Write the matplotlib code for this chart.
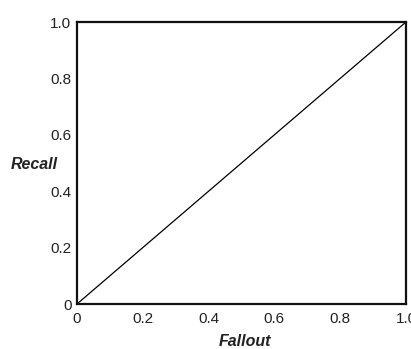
import matplotlib.pyplot as plt

# random-retrieval ROC line
fallout = [0.0, 1.0]
recall = [0.0, 1.0]

ticks = [0, 0.2, 0.4, 0.6, 0.8, 1.0]
tick_labels = ['0', '0.2', '0.4', '0.6', '0.8', '1.0']

plt.rcParams['font.family'] = ['Liberation Sans', 'DejaVu Sans']

fig = plt.figure(figsize=(4.11, 3.49), dpi=100)
ax = fig.add_axes([77 / 411, 1 - 304 / 349, 329 / 411, 282 / 349])

ax.plot(fallout, recall, color='black', linewidth=0.9)

ax.set_xlim(0, 1)
ax.set_ylim(0, 1)
ax.set_xticks(ticks)
ax.set_xticklabels(tick_labels)
ax.set_yticks(ticks)
ax.set_yticklabels(tick_labels)
ax.tick_params(length=0, labelsize=11, labelcolor='#222222')
ax.tick_params(axis='x', pad=6)
ax.tick_params(axis='y', pad=4)

for s in ax.spines.values():
    s.set_linewidth(1.6)
    s.set_color('#111111')

fig.text(34 / 411, 1 - 165 / 349, 'Recall', ha='center', va='center',
         fontsize=11.5, style='italic', fontweight='bold', color='#222222')
fig.text(245 / 411, 1 - 342 / 349, 'Fallout', ha='center', va='center',
         fontsize=11.5, style='italic', fontweight='bold', color='#222222')

fig.savefig('out.png', dpi=100)
